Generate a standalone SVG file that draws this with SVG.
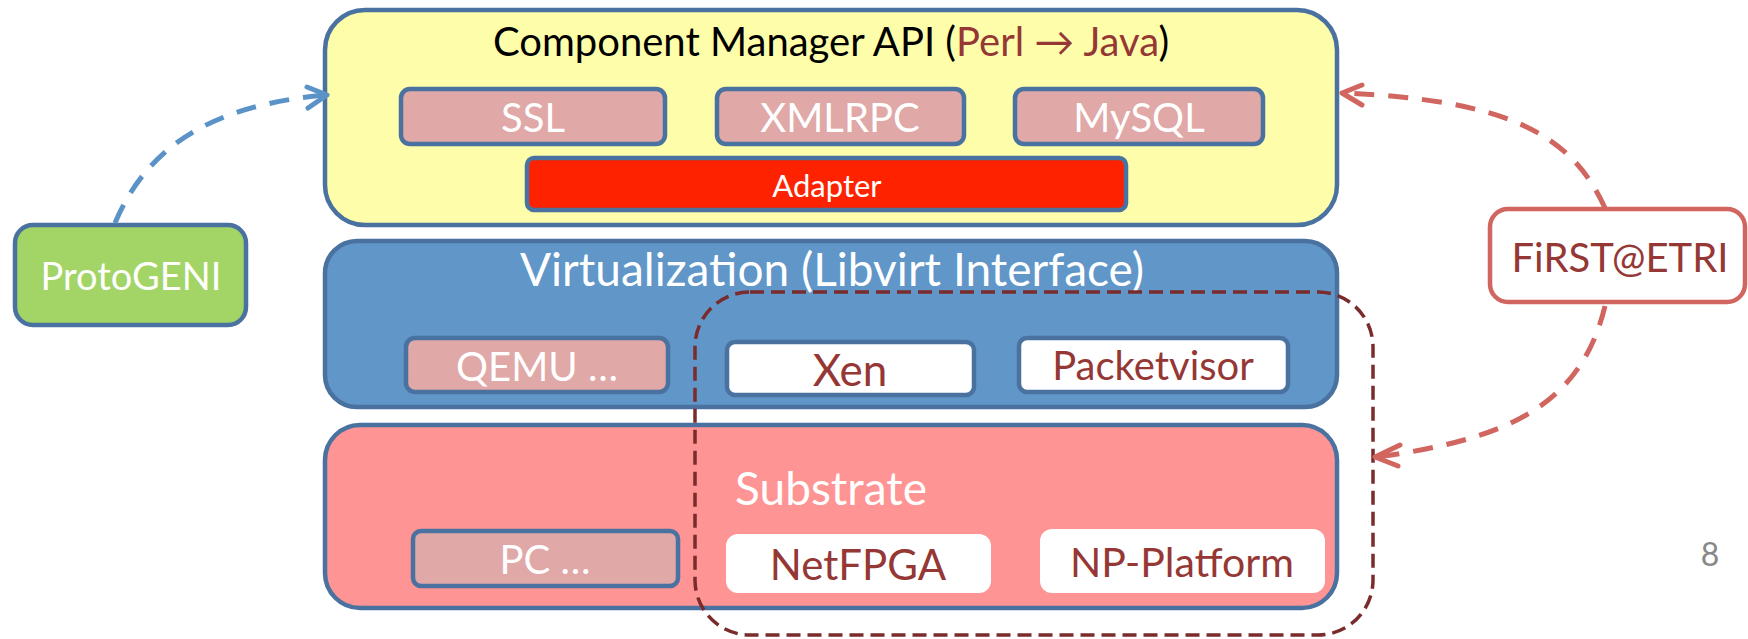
<svg xmlns="http://www.w3.org/2000/svg" width="1748" height="639" viewBox="0 0 1748 639">
<style>
text{font-family:Lato,"Open Sans","Liberation Sans",sans-serif;text-anchor:middle}
.big{stroke:#4a72a0;stroke-width:4.5}
.sub{fill:#e0a8a7;stroke:#4a72a0;stroke-width:4.5}
.wbox{fill:#ffffff;stroke:#4a72a0;stroke-width:4.5}
.t40{font-size:40px}
.w{fill:#ffffff}
.dr{fill:#953735}
.blue{fill:none;stroke:#5b93c9;stroke-width:5;stroke-dasharray:20 14}
.red{fill:none;stroke:#d0665f;stroke-width:5;stroke-dasharray:20 14}
.head{fill:none;stroke-width:5;stroke-linecap:round;stroke-linejoin:round}
</style>
<rect width="1748" height="639" fill="#ffffff"/>

<g id="cm-api">
<rect class="big" x="325" y="10" width="1012" height="215" rx="40" fill="#fefeaa"/>
<text x="831" y="56" font-size="40" fill="#000000">Component Manager API (<tspan fill="#953735">Perl → Java</tspan>)</text>
</g>
<g id="ssl"><rect class="sub" x="401" y="89" width="264" height="55" rx="9"/><text class="t40 w" x="533" y="132">SSL</text></g>
<g id="xmlrpc"><rect class="sub" x="717" y="89" width="247" height="55" rx="9"/><text class="t40 w" x="840" y="132">XMLRPC</text></g>
<g id="mysql"><rect class="sub" x="1015" y="89" width="248" height="55" rx="9"/><text class="t40 w" x="1139" y="132">MySQL</text></g>
<g id="adapter"><rect x="527" y="158" width="599" height="52" rx="7" fill="#ff2200" stroke="#4a72a0" stroke-width="4.5"/><text class="w" x="827" y="197" font-size="31">Adapter</text></g>

<g id="virtualization">
<rect class="big" x="325" y="241" width="1012" height="166" rx="32" fill="#6096c8"/>
<text class="w" x="832" y="286" font-size="46">Virtualization (Libvirt Interface)</text>
</g>
<g id="qemu"><rect class="sub" x="406" y="338" width="262" height="54" rx="9"/><text class="t40 w" x="537" y="381">QEMU …</text></g>
<g id="xen"><rect class="wbox" x="727" y="342" width="247" height="53" rx="8"/><text class="dr" x="850" y="386" font-size="44">Xen</text></g>
<g id="packetvisor"><rect class="wbox" x="1019" y="338" width="269" height="54" rx="8"/><text class="t40 dr" x="1153" y="380">Packetvisor</text></g>

<g id="substrate">
<rect class="big" x="325" y="425" width="1012" height="183" rx="35" fill="#fe9494"/>
<text class="w" x="831" y="505" font-size="46">Substrate</text>
</g>
<g id="pc"><rect class="sub" x="413" y="531" width="265" height="55" rx="8"/><text class="t40 w" x="545" y="574">PC …</text></g>
<g id="netfpga"><rect x="726" y="534" width="265" height="59" rx="12" fill="#ffffff"/><text class="dr" x="858" y="580" font-size="42">NetFPGA</text></g>
<g id="np-platform"><rect x="1040" y="529" width="285" height="64" rx="12" fill="#ffffff"/><text class="dr" x="1182" y="577" font-size="41">NP-Platform</text></g>

<g id="first-region">
<rect x="695" y="292" width="678" height="343" rx="55" fill="none" stroke="#7a2b2b" stroke-width="3.5" stroke-dasharray="14 7"/>
</g>

<g id="protogeni"><rect x="15" y="225" width="231" height="100" rx="18" fill="#a3d566" stroke="#4a72a0" stroke-width="4.5"/><text class="w" x="131" y="290" font-size="38">ProtoGENI</text></g>
<g id="first-etri"><rect x="1490" y="209" width="255" height="93" rx="18" fill="#ffffff" stroke="#d0665f" stroke-width="4.5"/><text class="dr" x="1620" y="272" font-size="40">FiRST@ETRI</text></g>

<g id="connectors">
<path class="blue" d="M115,223 C150,140 220,105 325,95"/>
<path class="head" stroke="#5b93c9" d="M307,87 L327,95 L308,108"/>
<path class="red" d="M1605,208 C1570,130 1500,100 1344,93"/>
<path class="head" stroke="#d0665f" d="M1362,85 L1342,93 L1362,105"/>
<path class="red" d="M1605,306 C1580,410 1500,440 1377,457"/>
<path class="head" stroke="#d0665f" d="M1400,445 L1375,457 L1398,466"/>
</g>

<text x="1710" y="566" font-size="32" fill="#888888">8</text>
</svg>
